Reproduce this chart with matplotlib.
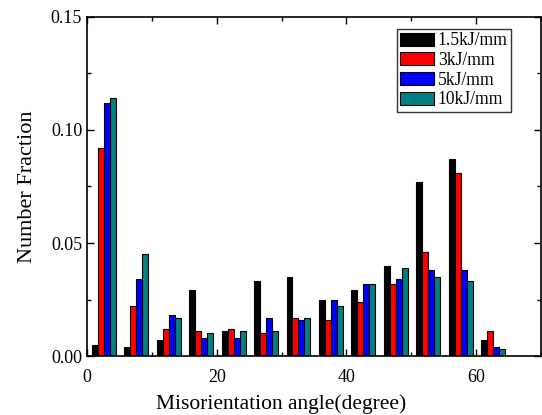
import numpy as np
import matplotlib
matplotlib.use("Agg")
import matplotlib.pyplot as plt
from matplotlib.ticker import MultipleLocator

plt.rcParams['font.family'] = ['Liberation Serif', 'DejaVu Serif']
plt.rcParams['mathtext.fontset'] = 'stix'

bin_centers = [2.5, 7.5, 12.5, 17.5, 22.5, 27.5, 32.5, 37.5, 42.5, 47.5, 52.5, 57.5, 62.5]
labels = ["1.5kJ/mm", "3kJ/mm", "5kJ/mm", "10kJ/mm"]
colors = ["#000000", "#ff0000", "#0000ff", "#008080"]

s_1p5 = [0.005, 0.004, 0.007, 0.029, 0.011, 0.033, 0.035, 0.025, 0.029, 0.040, 0.077, 0.087, 0.007]
s_3 = [0.092, 0.022, 0.012, 0.011, 0.012, 0.010, 0.017, 0.016, 0.024, 0.032, 0.046, 0.081, 0.011]
s_5 = [0.112, 0.034, 0.018, 0.008, 0.008, 0.017, 0.016, 0.025, 0.032, 0.034, 0.038, 0.038, 0.004]
s_10 = [0.114, 0.045, 0.017, 0.010, 0.011, 0.011, 0.017, 0.022, 0.032, 0.039, 0.035, 0.033, 0.003]
series = [s_1p5, s_3, s_5, s_10]

fig = plt.figure(figsize=(5.42, 4.15), dpi=100)
ax = fig.add_axes([87/542, 1 - 356/415, (541 - 87)/542, (356 - 17)/415])

w = 0.92
x = np.array(bin_centers) + 0.1
for i, (vals, lab, c) in enumerate(zip(series, labels, colors)):
    ax.bar(x + (i - 1.5) * w, vals, width=w, color=c, edgecolor='black',
           linewidth=0.8, label=lab)

ax.set_xlim(0, 70)
ax.set_ylim(0, 0.15)
ax.xaxis.set_major_locator(MultipleLocator(20))
ax.xaxis.set_minor_locator(MultipleLocator(10))
ax.yaxis.set_major_locator(MultipleLocator(0.05))
ax.yaxis.set_minor_locator(MultipleLocator(0.025))
ax.yaxis.set_major_formatter(matplotlib.ticker.FormatStrFormatter('%.2f'))
ax.tick_params(which='both', direction='in', top=True, right=True, labelsize=13)
ax.tick_params(axis='x', which='major', pad=9)
ax.tick_params(which='major', length=5, width=1)
ax.tick_params(which='minor', length=3, width=1)
for sp in ax.spines.values():
    sp.set_linewidth(1.2)

ax.set_xlabel("Misorientation angle(degree)", fontsize=15.5)
ax.xaxis.set_label_coords(0.427, -0.112)
ax.set_ylabel("Number Fraction", fontsize=16, labelpad=10)

leg = ax.legend(loc='upper right', bbox_to_anchor=(0.935, 0.965), fontsize=12.7,
                frameon=True, fancybox=False, edgecolor='black',
                handlelength=1.95, handleheight=0.75, handletextpad=0.2,
                labelspacing=0.15, borderpad=0.2, borderaxespad=0.0)
leg.get_frame().set_linewidth(1.0)

fig.savefig("out.png", dpi=100)
